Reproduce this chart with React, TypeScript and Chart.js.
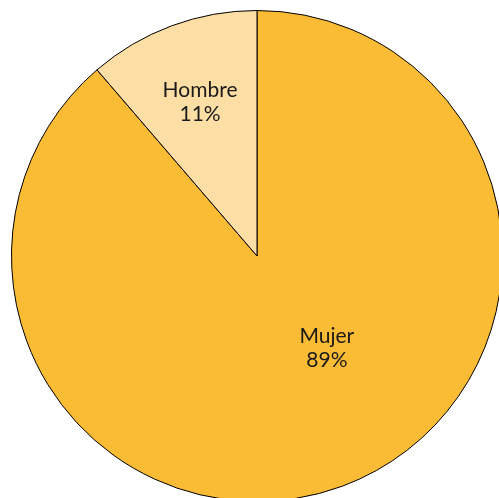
import React, { useEffect, useRef } from "react";
import { Chart, registerables } from "chart.js";

Chart.register(...registerables);

const categories = ["Mujer", "Hombre"];
const values = [88.7, 11.3];
const percentLabels = ["89%", "11%"];
const colors = ["#FBBC35", "#FDDFA5"];
// label placement: fraction of the slice's sweep, fraction of the radius
const labelSweepFrac = [0.447, 0.5];
const labelRadiusFrac = [0.47, 0.667];

const labelPlugin = {
  id: "sliceLabels",
  afterDatasetsDraw(chart: any) {
    const ctx = chart.ctx;
    const meta = chart.getDatasetMeta(0);
    ctx.save();
    ctx.font = "21px Lato";
    ctx.fillStyle = "#1a1a1a";
    ctx.textAlign = "center";
    ctx.textBaseline = "middle";
    meta.data.forEach((arc: any, i: number) => {
      const { x, y, startAngle, endAngle, outerRadius } = arc.getProps(
        ["x", "y", "startAngle", "endAngle", "outerRadius"],
        true
      );
      const a = startAngle + (endAngle - startAngle) * labelSweepFrac[i];
      const r = outerRadius * labelRadiusFrac[i];
      const cx = x + Math.cos(a) * r;
      const cy = y + Math.sin(a) * r;
      ctx.fillText(categories[i], cx, cy - 12);
      ctx.fillText(percentLabels[i], cx, cy + 12);
    });
    ctx.restore();
  },
};

export default function App() {
  const ref = useRef<HTMLCanvasElement>(null);
  useEffect(() => {
    if (!ref.current) return;
    const chart = new Chart(ref.current, {
      type: "pie",
      data: {
        labels: categories,
        datasets: [
          {
            data: values,
            backgroundColor: colors,
            borderColor: "#000",
            borderWidth: 1,
          },
        ],
      },
      options: {
        responsive: false,
        animation: false,
        layout: { padding: 2 },
        plugins: { legend: { display: false }, tooltip: { enabled: false } },
      },
      plugins: [labelPlugin],
    });
    return () => chart.destroy();
  }, []);
  return (
    <div
      style={{
        position: "fixed",
        left: 0,
        top: 0,
        width: 499,
        height: 498,
        overflow: "hidden",
      }}
    >
      <canvas
        ref={ref}
        width={498}
        height={496}
        style={{ display: "block", position: "absolute", left: 8, top: 8 }}
      />
    </div>
  );
}
